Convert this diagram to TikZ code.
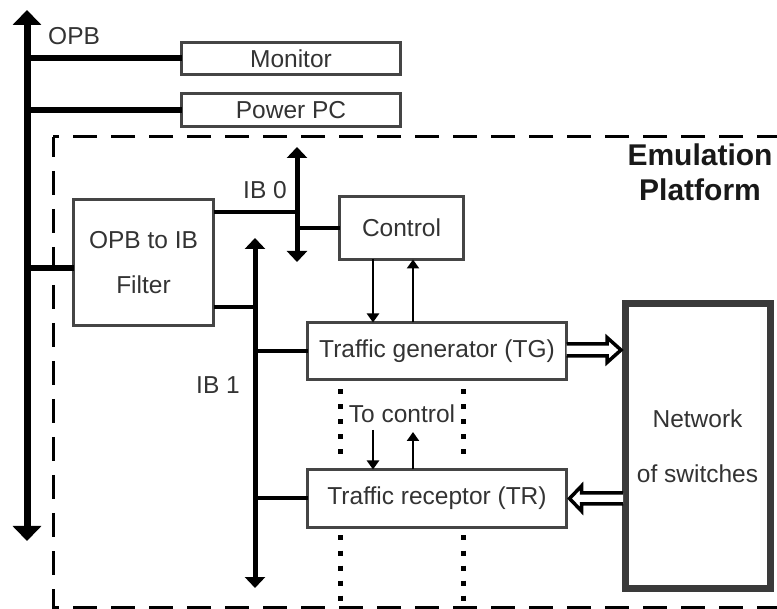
\documentclass[tikz,border=0pt]{standalone}
\usepackage{fontspec}
\setmainfont{Liberation Sans}
\usetikzlibrary{arrows.meta,calc}
\definecolor{boxgray}{HTML}{454545}
\definecolor{textgray}{HTML}{333333}
\definecolor{netgray}{HTML}{3A3A3A}
\begin{document}
\begin{tikzpicture}[x=1pt,y=-1pt,
  txt/.style={text=textgray, font=\fontsize{24.5}{29}\selectfont, inner sep=0pt},
  box/.style={txt, draw=boxgray, line width=3pt, fill=white, outer sep=0pt, align=center},
  netbox/.style={txt, draw=netgray, line width=7pt, fill=white, outer sep=0pt, align=center},
  opbbus/.style={line width=7pt, {Triangle[width=28pt,length=15pt]}-{Triangle[width=28pt,length=15pt]}},
  ibbus/.style={line width=5pt, {Triangle[width=20pt,length=11pt]}-{Triangle[width=20pt,length=11pt]}},
  opbconn/.style={line width=6pt},
  ibconn/.style={line width=4pt},
  sarrow/.style={line width=2.5pt, -{Triangle[width=12pt,length=9pt]}},
  hollow/.style={line width=3.5pt, fill=white, line join=miter},
  dots/.style={line width=5pt, dash pattern=on 5pt off 10pt},
  platform/.style={line width=3pt, dash pattern=on 24pt off 14pt, dash phase=4pt}]
\useasboundingbox (0,0) rectangle (777,609);
\clip (0,0) rectangle (777,609);

% emulation platform frame
\draw[platform] (53,137) rectangle (800,607);
\node[font=\fontsize{30}{35}\bfseries\selectfont, text=black!90, align=center, inner sep=0pt]
  (emu) at (700,172.5) {Emulation\\Platform};

% buses
\coordinate (opbtop) at (27,10);
\coordinate (opbbot) at (27,541);
\coordinate (ib0top) at (297,147);
\coordinate (ib0bot) at (297,262);
\coordinate (ib1top) at (255,238);
\coordinate (ib1bot) at (255,588);
\draw[opbbus] (opbbot) -- (opbtop);
\draw[ibbus] (ib0bot) -- (ib0top);
\draw[ibbus] (ib1bot) -- (ib1top);

% bus labels
\node[txt, anchor=west] (opblabel) at (48,36) {OPB};
\node[txt] (ib0label) at (265,190) {IB 0};
\node[txt] (ib1label) at (218,385) {IB 1};

% blocks
\node[box, minimum width=219pt, minimum height=32pt] (monitor) at (291,58.5) {Monitor};
\node[box, minimum width=219pt, minimum height=33pt] (powerpc) at (291,110) {Power PC};
\node[box, minimum width=140pt, minimum height=126pt] (filter) at (143.5,262.5) {OPB to IB\\[16pt]Filter};
\node[box, minimum width=124pt, minimum height=63pt] (control) at (401.5,228) {Control};
\node[box, minimum width=259pt, minimum height=57pt] (tg) at (437,351) {Traffic generator (TG)};
\node[box, minimum width=259pt, minimum height=58pt] (tr) at (437,498.5) {Traffic receptor (TR)};
\node[netbox, minimum width=145pt, minimum height=285pt] (net) at (697.5,446) {Network\\[26pt]of switches};

% OPB connections
\draw[opbconn] (monitor.west -| opbtop) -- (monitor.west);
\draw[opbconn] (powerpc.west -| opbtop) -- (powerpc.west);
\coordinate (fin) at ($(filter.west)+(0,5.5)$);
\draw[opbconn] (fin -| opbtop) -- (fin);

% IB connections
\coordinate (f0) at ($(filter.north east)+(0,12.5)$);
\coordinate (f1) at ($(filter.south east)+(0,-18.5)$);
\draw[ibconn] (f0) -- (f0 -| ib0top);
\draw[ibconn] (f1) -- (f1 -| ib1top);
\draw[ibconn] (control.west -| ib0top) -- (control.west);
\draw[ibconn] (tg.west -| ib1top) -- (tg.west);
\draw[ibconn] (tr.west -| ib1top) -- (tr.west);

% control links
\coordinate (cd) at ($(control.south)+(-28.5,0)$);
\coordinate (cu) at ($(control.south)+(11.5,0)$);
\draw[sarrow] (cd) -- (cd |- tg.north);
\draw[sarrow] (cu |- tg.north) -- (cu);
\coordinate (td) at (373,430);
\coordinate (tu) at (413,432);
\draw[sarrow] (td) -- (td |- tr.north);
\draw[sarrow] (tu |- tr.north) -- (tu);
\node[txt] (tocontrol) at (402,414) {To control};

% dotted guides
\coordinate (d1a) at (340,389.5); \coordinate (d1b) at (340,455);
\coordinate (d2a) at (463,389.5); \coordinate (d2b) at (463,455);
\coordinate (d3a) at (340,535.5); \coordinate (d3b) at (340,601);
\coordinate (d4a) at (463,535.5); \coordinate (d4b) at (463,601);
\draw[dots] (d1a) -- (d1b);
\draw[dots] (d2a) -- (d2b);
\draw[dots] (d3a) -- (d3b);
\draw[dots] (d4a) -- (d4b);

% data paths to and from the switch network
\coordinate (tipg) at ($(net.west |- tg.east)+(-4,-1)$);
\draw[hollow] ($(tg.east)+(0,-7)$) -- ($(tipg)+(-14,-6)$) -- ($(tipg)+(-14,-12.5)$)
  -- (tipg) -- ($(tipg)+(-14,12.5)$) -- ($(tipg)+(-14,6)$) -- ($(tg.east)+(0,5)$);
\coordinate (tipr) at ($(tr.east)+(3,0)$);
\draw[hollow] ($(net.west |- tr.east)+(-2,-5.5)$) -- ($(tipr)+(12,-5.5)$) -- ($(tipr)+(12,-12.5)$)
  -- (tipr) -- ($(tipr)+(12,12.5)$) -- ($(tipr)+(12,5.5)$) -- ($(net.west |- tr.east)+(-2,5.5)$);
\end{tikzpicture}
\end{document}
